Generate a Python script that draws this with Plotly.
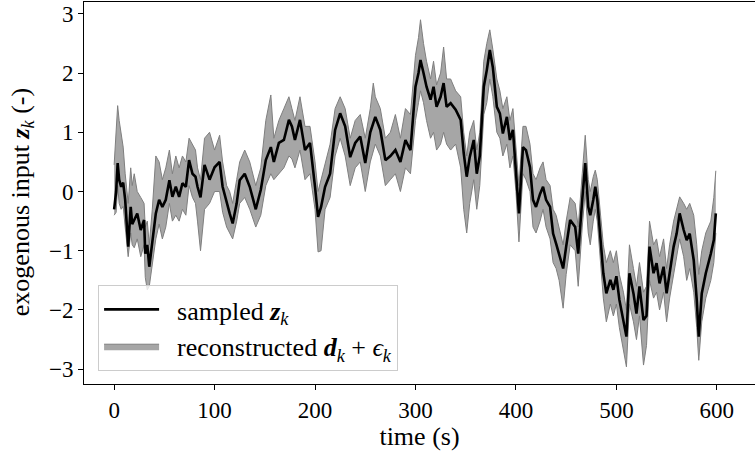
import plotly.graph_objects as go

# time (s)
t = [0, 2, 3.5, 5, 7, 9, 11, 14, 16.5, 18, 20, 23, 26.5, 29.8, 31, 33, 35, 38, 41.5, 44.8,
     48, 51.4, 55, 58, 61.4, 64.7, 68, 71.4, 74.6, 78, 81, 83, 86, 90, 95, 100, 105, 108, 112, 115,
     118, 122, 125, 130, 135, 141, 146, 151, 156, 159, 164, 169, 174, 177, 180, 185, 190, 195, 200, 203,
     206, 210, 215, 220, 225, 230, 235, 240, 245, 250, 255, 258, 260, 265, 270, 275, 280, 285, 290, 295,
     300, 303, 305, 308, 311, 315, 318, 321, 325, 328, 331, 335, 340, 345, 348, 351, 354, 358, 361, 364,
     368, 371, 374, 377, 381, 384, 387, 391, 394, 397, 400, 403, 407, 410, 414, 417, 420, 424, 427, 430,
     434, 437, 440, 443, 447, 450, 454, 459, 462, 466, 469, 472, 474, 477, 479, 481, 484, 487, 490, 494,
     497, 500, 503, 507, 510, 513, 517, 520, 523, 527, 530, 533, 537, 540, 543, 547, 550, 553, 557, 560,
     563, 567, 570, 573, 577, 580, 582, 585, 589, 594, 597, 599]

# sampled z_k
z = [-0.30, 0.00, 0.48, 0.20, 0.08, 0.15, -0.14, -0.93, -0.26, -0.55, -0.48, -0.37, -0.65, -0.48, -1.05, -0.90, -1.27, -0.82, -0.37, -0.14,
     -0.26, -0.14, 0.19, -0.09, 0.08, -0.09, 0.14, 0.08, 0.53, 0.30, 0.25, 0.08, -0.10, 0.45, 0.20, 0.41, 0.50, 0.08, -0.20, -0.37,
     -0.54, -0.20, 0.19, 0.30, 0.08, -0.30, 0.03, 0.53, 0.75, 0.50, 0.82, 0.87, 1.21, 1.10, 0.87, 1.21, 0.70, 0.82, 0.08, -0.43,
     -0.26, 0.08, 0.30, 1.04, 1.32, 1.10, 0.58, 0.82, 0.93, 0.48, 1.00, 1.15, 1.26, 1.04, 0.53, 0.60, 0.70, 0.50, 0.87, 0.70,
     1.77, 2.00, 2.22, 2.00, 1.77, 1.55, 1.77, 1.43, 1.60, 1.83, 1.43, 1.49, 1.38, 1.21, 0.65, 0.25, 0.58, 0.87, 0.30, 0.60,
     1.77, 2.05, 2.39, 2.10, 1.43, 1.32, 0.98, 1.26, 0.87, 1.04, 0.41, -0.37, 0.75, 0.70, 0.41, -0.14, -0.26, -0.04, 0.08, -0.14,
     -0.26, -0.71, -0.88, -1.05, -1.30, -0.93, -0.48, -0.60, -1.05, -0.14, 0.48, -0.26, -0.40, -0.14, 0.08, -0.14, -0.71, -1.38, -1.72, -1.49,
     -1.66, -1.43, -1.83, -2.17, -2.45, -1.38, -1.72, -2.06, -1.60, -2.17, -2.10, -0.93, -1.38, -1.21, -1.55, -1.27, -1.72, -1.38, -0.93, -0.71,
     -0.37, -0.65, -0.82, -0.71, -1.16, -1.83, -2.45, -1.72, -1.38, -1.05, -0.82, -0.37]

# reconstructed d_k + eps_k : lower / upper envelope
lo = [-0.40, -0.35, 0.10, -0.20, -0.30, -0.25, -0.60, -1.10, -0.70, -0.90, -0.95, -0.80, -1.10, -0.90, -1.45, -1.66, -1.60, -1.20, -0.80, -0.55,
      -0.80, -0.60, -0.20, -0.50, -0.40, -0.50, -0.30, -0.40, 0.10, -0.10, -0.20, -0.50, -1.00, -0.30, -0.20, 0.00, 0.00, -0.35, -0.60, -0.70,
      -0.80, -0.50, -0.20, -0.10, -0.30, -0.60, -0.40, 0.10, 0.30, 0.20, 0.30, 0.40, 0.60, 0.55, 0.40, 0.70, 0.20, 0.30, -0.30, -1.02,
      -1.00, -0.30, -0.10, 0.60, 0.90, 0.60, 0.10, 0.40, 0.50, 0.00, 0.50, 0.70, 0.80, 0.60, 0.10, 0.20, 0.30, 0.00, 0.40, 0.30,
      1.20, 1.50, 1.70, 1.50, 1.20, 0.90, 1.00, 0.70, 0.80, 1.00, 0.80, 0.70, 0.80, 0.40, -0.30, -0.70, -0.20, 0.20, -0.30, 0.10,
      1.30, 1.50, 1.90, 1.60, 1.00, 0.90, 0.60, 0.80, 0.40, 0.60, 0.00, -0.85, 0.30, 0.20, 0.00, -0.60, -0.70, -0.50, -0.30, -0.60,
      -0.80, -1.20, -1.30, -1.50, -1.97, -1.40, -0.90, -1.00, -1.60, -0.60, 0.00, -0.70, -0.90, -0.50, -0.30, -0.50, -1.10, -1.80, -2.20, -1.90,
      -2.10, -1.90, -2.30, -2.70, -2.96, -1.90, -2.20, -2.50, -2.10, -2.93, -2.60, -1.50, -1.80, -1.70, -2.00, -1.70, -2.20, -1.80, -1.40, -1.10,
      -0.80, -1.10, -1.50, -1.30, -1.70, -2.30, -2.85, -2.20, -1.80, -1.50, -1.20, -0.70]

hi = [0.45, 1.00, 1.45, 1.20, 0.95, 0.75, 0.30, -0.20, 0.40, 0.10, 0.30, 0.00, -0.10, -0.20, -0.60, -0.50, -0.90, -0.30, 0.60, 0.50,
      0.20, 0.40, 0.70, 0.30, 0.60, 0.40, 0.60, 0.50, 0.90, 0.80, 0.70, 0.40, 0.20, 0.90, 1.00, 0.70, 0.95, 0.50, 0.10, 0.00,
      -0.20, 0.20, 0.50, 0.70, 0.50, 0.10, 0.40, 1.20, 1.63, 0.90, 1.20, 1.40, 1.60, 1.40, 1.20, 1.60, 1.10, 1.10, 0.50, 0.00,
      0.20, 0.50, 0.80, 1.40, 1.60, 1.40, 0.90, 1.20, 1.30, 0.90, 1.40, 1.83, 1.60, 1.40, 0.90, 1.00, 1.30, 0.90, 1.40, 1.30,
      2.30, 2.60, 2.90, 2.50, 2.20, 1.90, 2.20, 1.80, 2.00, 2.44, 1.90, 1.90, 1.70, 1.60, 1.00, 0.60, 1.00, 1.20, 0.70, 1.00,
      2.20, 2.50, 2.73, 2.40, 1.90, 1.70, 1.40, 1.60, 1.20, 1.40, 0.80, 0.10, 1.10, 1.10, 0.80, 0.30, 0.20, 0.40, 0.50, 0.20,
      0.10, -0.30, -0.40, -0.60, -0.90, -0.50, -0.10, -0.20, -0.60, 0.30, 0.95, 0.20, 0.00, 0.25, 0.36, 0.20, -0.30, -0.90, -1.20, -1.00,
      -1.20, -1.00, -1.40, -1.70, -2.00, -0.90, -1.30, -1.60, -1.20, -1.70, -1.60, -0.50, -0.90, -0.80, -1.10, -0.80, -1.30, -0.90, -0.50, -0.30,
      -0.09, -0.20, -0.30, -0.20, -0.40, -0.90, -1.40, -1.00, -0.70, -0.50, -0.10, 0.35]

x_ticks = [0, 100, 200, 300, 400, 500, 600]
y_ticks = [-3, -2, -1, 0, 1, 2, 3]
y_tick_text = ["−3", "−2", "−1", "0", "1", "2", "3"]

FONT = "Liberation Serif"
SP = "\u00a0\u00a0"

fig = go.Figure()
fig.add_trace(go.Scatter(x=t, y=lo, mode="lines", line=dict(color="#7f7f7f", width=1),
                         showlegend=False, hoverinfo="skip"))
fig.add_trace(go.Scatter(x=t, y=hi, mode="lines", line=dict(color="#7f7f7f", width=1),
                         fill="tonexty", fillcolor="rgba(128,128,128,0.7)",
                         name=SP + "reconstructed <b><i>d</i></b><sub><i>k</i></sub> + <i>ϵ</i><sub><i>k</i></sub>",
                         legendrank=2))
fig.add_trace(go.Scatter(x=t, y=z, mode="lines", line=dict(color="black", width=2.6),
                         name=SP + "sampled <b><i>z</i></b><sub><i>k</i></sub>", legendrank=1))

axis_common = dict(showline=True, linecolor="black", linewidth=1, mirror=True,
                   ticks="outside", ticklen=5, tickcolor="black", showgrid=False, zeroline=False,
                   tickfont=dict(family=FONT, size=23, color="black"))

fig.update_layout(
    width=755, height=451,
    margin=dict(l=84, r=0, t=2, b=67),
    plot_bgcolor="white", paper_bgcolor="white",
    font=dict(family=FONT, size=22, color="black"),
    xaxis=dict(range=[-30, 638], tickvals=x_ticks,
               title=dict(text="time (s)", font=dict(family=FONT, size=26), standoff=2),
               **axis_common),
    yaxis=dict(range=[-3.25, 3.2], tickvals=y_ticks, ticktext=y_tick_text, **axis_common),
    legend=dict(x=0.021, y=0.034, xanchor="left", yanchor="bottom", traceorder="normal",
                bgcolor="rgba(255,255,255,0.8)", bordercolor="#cccccc", borderwidth=1,
                font=dict(family=FONT, size=26), itemwidth=55, tracegroupgap=0),
    annotations=[dict(text="exogenous input <b><i>z</i></b><sub><i>k</i></sub> (-)",
                      xref="paper", yref="paper", x=-0.0924, y=0.476,
                      xanchor="center", yanchor="middle", textangle=-90, showarrow=False,
                      font=dict(family=FONT, size=26, color="black"))],
)

fig.write_html("out.html")
